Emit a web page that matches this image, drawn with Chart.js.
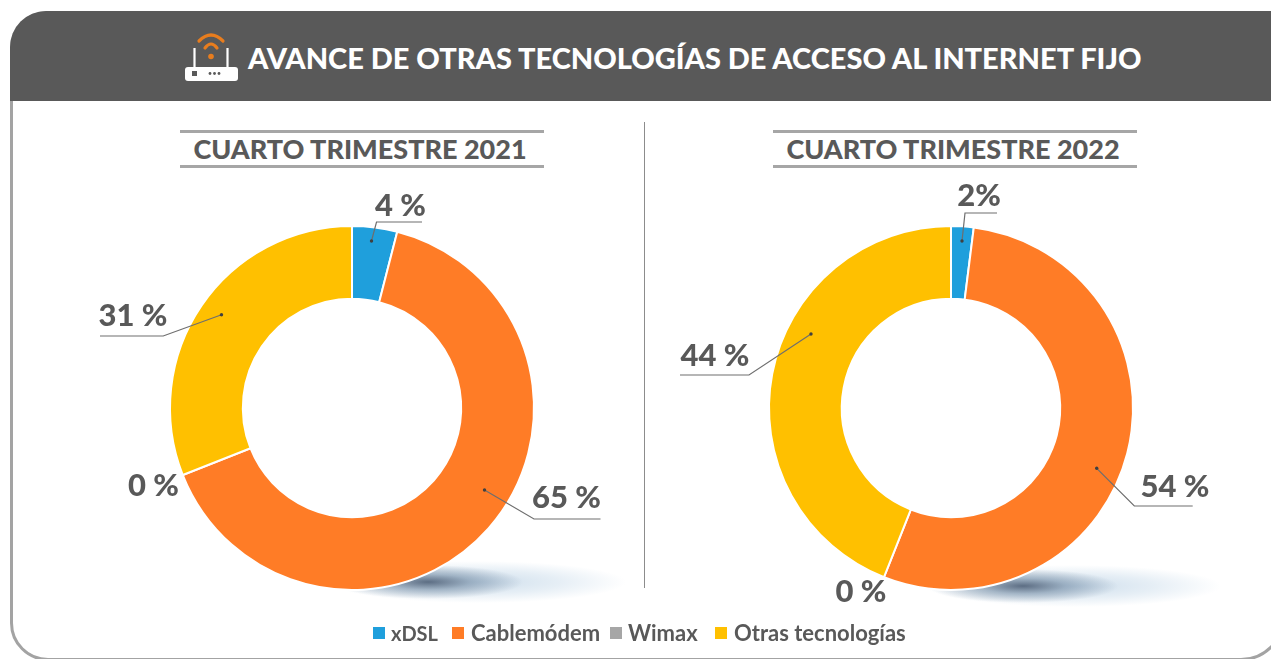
<!DOCTYPE html>
<html><head><meta charset="utf-8">
<script src="https://cdn.jsdelivr.net/npm/chart.js@4"></script>
<style>
html,body{margin:0;padding:0;background:#fff}
#stage{position:relative;width:1271px;height:659px;overflow:hidden;background:#fff;font-family:Lato,sans-serif}
#card{position:absolute;left:10px;top:11px;width:1275px;height:650px;border:3px solid #a3a3a3;border-radius:38px 38px 44px 38px;box-sizing:border-box}
#head{position:absolute;left:10px;top:11px;width:1275px;height:90px;background:#595959;border-radius:36px 0 0 0}
#title{position:absolute;left:248px;top:39px;color:#fff;font-weight:900;font-size:29px;line-height:38px;white-space:nowrap}
.sub{position:absolute;top:130px;width:360px;padding-right:4px;border-top:3px solid #a6a6a6;border-bottom:3px solid #a6a6a6;height:32px;text-align:center;color:#595959;font-weight:900;font-size:27px;line-height:31px;white-space:nowrap}
#div{position:absolute;left:644px;top:122px;width:1px;height:466px;background:#8c8c8c}
canvas{position:absolute}
.sh{position:absolute;width:320px;height:50px;background:
 radial-gradient(ellipse 95px 17px at 105px 25px,rgba(70,88,112,.85) 0%,rgba(110,135,160,.55) 45%,rgba(170,195,215,0) 100%),
 radial-gradient(ellipse 148px 21px at 155px 25px,rgba(185,208,228,.7) 0%,rgba(205,222,236,.5) 55%,rgba(255,255,255,0) 100%)}
.lg{position:absolute;top:619px;color:#595959;font-weight:700;font-size:22px;line-height:28px;white-space:nowrap}
.sw{position:absolute;top:627px;width:12px;height:12px}
</style></head><body>
<div id="stage">
<div id="card"></div>
<div class="sh" style="left:323px;top:557px"></div>
<div class="sh" style="left:918px;top:561px"></div>
<div id="head"></div>
<svg style="position:absolute;left:170px;top:20px" width="80" height="70" viewBox="0 0 80 70">
<g fill="none" stroke="#e87d1e" stroke-width="3.2" stroke-linecap="round">
<path d="M29 21 Q41 9 53 21"/><path d="M35 28 Q41 20 47 28"/></g>
<circle cx="41" cy="36.5" r="2.8" fill="#e87d1e"/>
<path d="M24.5 28V48M57.5 28V48" stroke="#fff" stroke-width="2.2"/>
<rect x="15" y="47" width="53" height="14" rx="3" fill="#fff"/>
<rect x="22" y="51" width="5" height="5" fill="#595959"/>
<circle cx="40" cy="53.5" r="1.4" fill="#595959"/><circle cx="44.5" cy="53.5" r="1.4" fill="#595959"/><circle cx="49" cy="53.5" r="1.4" fill="#595959"/>
</svg>
<div id="title"></div>
<div class="sub" id="s0" style="left:180px"></div>
<div class="sub" id="s1" style="left:773px"></div>
<div id="div"></div>
<canvas id="c0" width="600" height="600" style="left:51.5px;top:108px;width:600px;height:600px"></canvas>
<canvas id="c1" width="600" height="600" style="left:651px;top:108px;width:600px;height:600px"></canvas>
</div>
<script>
const titleText = "AVANCE DE OTRAS TECNOLOGÍAS DE ACCESO AL INTERNET FIJO";
const periods = ["CUARTO TRIMESTRE 2021", "CUARTO TRIMESTRE 2022"];
const categories = ["xDSL", "Cablemódem", "Wimax", "Otras tecnologías"];
const values2021 = [4, 65, 0, 31];
const values2022 = [2, 54, 0, 44];
const labels2021 = ["4 %", "65 %", "0 %", "31 %"];
const labels2022 = ["2%", "54 %", "0 %", "44 %"];
const colors = ["#1f9fdc", "#ff7c26", "#a6a6a6", "#ffc000"];

// label and leader offsets from the doughnut centre
const layout2021 = [
  {x:48.5,y:-202, from:[19.5,-167], elbow:[24.5,-186], end:[70,-186]},
  {x:214.5,y:90, from:[132.5,82], elbow:[182,111], end:[248.5,111]},
  {x:-198.5,y:78},
  {x:-219,y:-92, from:[-130.5,-93.3], elbow:[-188.8,-72], end:[-252,-72]}
];
const layout2022 = [
  {x:28,y:-212, from:[11,-167], elbow:[14,-195], end:[46,-195]},
  {x:224,y:79, from:[145.7,60.3], elbow:[183.3,98], end:[241.7,98]},
  {x:-90,y:184},
  {x:-236,y:-52, from:[-140,-74], elbow:[-202,-33], end:[-271,-33]}
];

const calloutPlugin = {
  id:'callouts',
  afterDatasetsDraw(chart, args, opts){
    const c = chart.ctx;
    const arc = chart.getDatasetMeta(0).data[0];
    const cx = arc.x, cy = arc.y;
    c.save();
    c.translate(cx, cy);
    c.font = '900 31px Lato, sans-serif';
    c.textAlign = 'center';
    c.textBaseline = 'middle';
    opts.layout.forEach((p,i)=>{
      c.fillStyle = '#595959';
      c.fillText(opts.texts[i], p.x, p.y);
      if(p.from){
        c.strokeStyle = '#6e6e6e'; c.lineWidth = 1.2;
        c.beginPath(); c.moveTo(p.from[0],p.from[1]);
        c.lineTo(p.elbow[0],p.elbow[1]);
        c.lineTo(p.end[0],p.end[1]);
        c.stroke();
        c.fillStyle = '#404040';
        c.beginPath(); c.arc(p.from[0],p.from[1],1.7,0,Math.PI*2); c.fill();
      }
    });
    c.restore();
  }
};

function makeChart(id, values, texts, layout){
  return new Chart(document.getElementById(id), {
    type:'doughnut',
    plugins:[calloutPlugin],
    data:{labels:categories, datasets:[{data:values, backgroundColor:colors, borderColor:'#fff', borderWidth:2}]},
    options:{
      responsive:false, animation:false, cutout:'60%', radius:182,
      layout:{padding:0},
      plugins:{legend:{display:false}, tooltip:{enabled:false}, title:{display:false},
        callouts:{texts, layout}}
    }
  });
}
document.getElementById('title').textContent = titleText;
document.getElementById('s0').textContent = periods[0];
document.getElementById('s1').textContent = periods[1];
const stage = document.getElementById('stage');
const swatchLeft = [373, 452, 610, 715];
const textLeft = [391, 471, 628, 734];
const legendSizes = [20, 22, 22, 22];
categories.forEach((n,i)=>{
  const b = document.createElement('div'); b.className='sw';
  b.style.left = swatchLeft[i]+'px'; b.style.background = colors[i]; stage.appendChild(b);
  const t = document.createElement('div'); t.className='lg';
  t.style.left = textLeft[i]+'px'; t.style.fontSize = legendSizes[i]+'px'; t.textContent = n; stage.appendChild(t);
});
document.fonts.ready.then(()=>{
  makeChart('c0', values2021, labels2021, layout2021);
  makeChart('c1', values2022, labels2022, layout2022);
});
</script>
</body></html>
